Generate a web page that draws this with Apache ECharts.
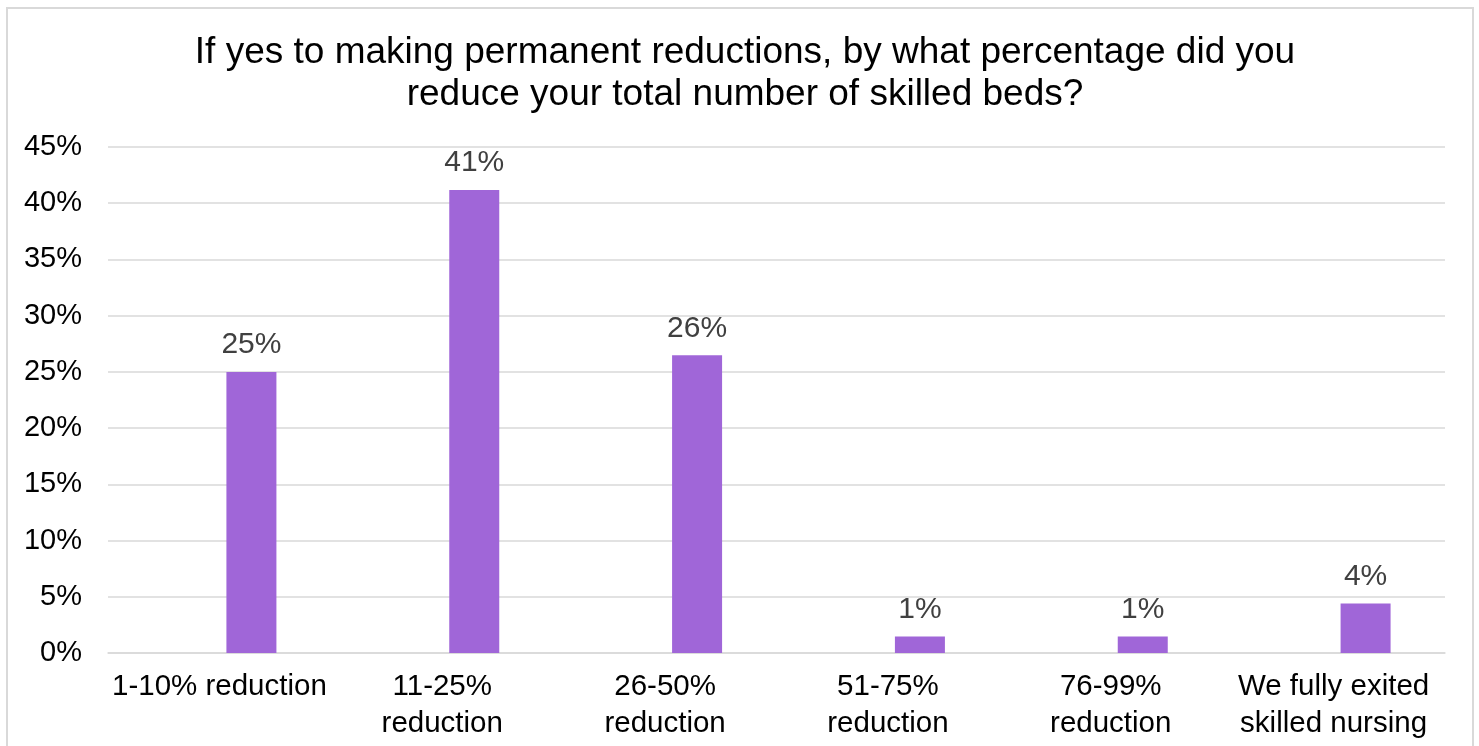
<!DOCTYPE html>
<html>
<head>
<meta charset="utf-8">
<script src="https://cdn.jsdelivr.net/npm/echarts@6/dist/echarts.min.js"></script>
<style>html,body{margin:0;padding:0;background:#fff;}#c{width:1479px;height:746px;}</style>
</head>
<body>
<div id="c"></div>
<script>
const titleText = 'If yes to making permanent reductions, by what percentage did you\nreduce your total number of skilled beds?';
const categories = ['1-10% reduction', '11-25%\nreduction', '26-50%\nreduction', '51-75%\nreduction', '76-99%\nreduction', 'We fully exited\nskilled nursing'];
const values = [25.0, 41.18, 26.47, 1.47, 1.47, 4.41];
const emptySeries = [null, null, null, null, null, null];
const yTicks = { min: 0, max: 45, interval: 5 };

const FONT = '"Liberation Sans", Arial, sans-serif';
const chart = echarts.init(document.getElementById('c'), null, { renderer: 'canvas' });
chart.setOption({
  backgroundColor: '#fff',
  animation: false,
  title: {
    text: titleText,
    left: 740,
    top: 27,
    textAlign: 'center',
    textStyle: { fontFamily: FONT, fontSize: 37, fontWeight: 'normal', color: '#000', lineHeight: 42 }
  },
  graphic: [{
    type: 'rect',
    shape: { x: 7, y: 8, width: 1466, height: 760 },
    style: { fill: 'none', stroke: '#d9d9d9', lineWidth: 2 },
    silent: true
  }],
  grid: { left: 108, right: 34, top: 147, bottom: 93, containLabel: false },
  xAxis: {
    type: 'category',
    data: categories,
    axisLine: { show: true, lineStyle: { color: '#d9d9d9', width: 1.5 } },
    axisTick: { show: false },
    axisLabel: { fontFamily: FONT, fontSize: 29.5, color: '#000', lineHeight: 37, margin: 15, interval: 0 }
  },
  yAxis: {
    type: 'value',
    min: yTicks.min, max: yTicks.max, interval: yTicks.interval,
    axisLine: { show: false },
    axisTick: { show: false },
    splitLine: { lineStyle: { color: '#d9d9d9', width: 1.5 } },
    axisLabel: { fontFamily: FONT, fontSize: 29, color: '#000', margin: 26, formatter: v => v + '%' }
  },
  series: [
    { type: 'bar', data: emptySeries, barWidth: 50, barGap: '28%', itemStyle: { color: 'transparent' } },
    {
      type: 'bar', data: values, barWidth: 50, barGap: '28%',
      itemStyle: { color: '#a066d8' },
      label: {
        show: true, position: 'top', distance: 12,
        fontFamily: FONT, fontSize: 30, color: '#404040',
        formatter: p => Math.round(p.value) + '%'
      }
    }
  ]
});
</script>
</body>
</html>
